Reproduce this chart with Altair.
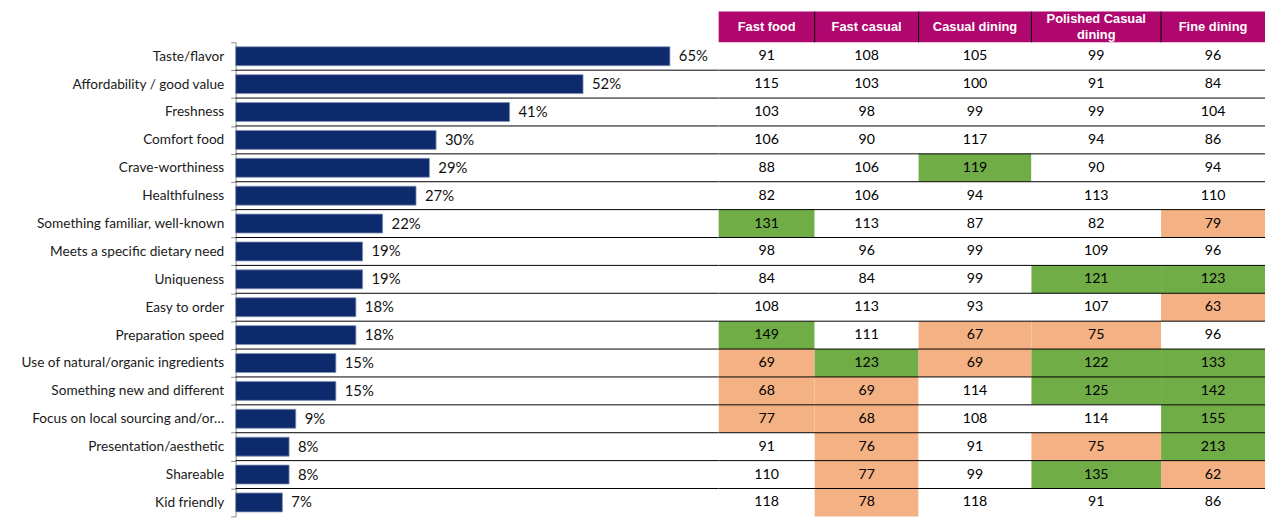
import altair as alt
import pandas as pd

# ---------------- data ----------------
categories = [
    "Taste/flavor",
    "Affordability / good value",
    "Freshness",
    "Comfort food",
    "Crave-worthiness",
    "Healthfulness",
    "Something familiar, well-known",
    "Meets a specific dietary need",
    "Uniqueness",
    "Easy to order",
    "Preparation speed",
    "Use of natural/organic ingredients",
    "Something new and different",
    "Focus on local sourcing and/or…",
    "Presentation/aesthetic",
    "Shareable",
    "Kid friendly",
]
share_pct = [65, 52, 41, 30, 29, 27, 22, 19, 19, 18, 18, 15, 15, 9, 8, 8, 7]

segments = ["Fast food", "Fast casual", "Casual dining", "Polished Casual\ndining", "Fine dining"]
fast_food = [91, 115, 103, 106, 88, 82, 131, 98, 84, 108, 149, 69, 68, 77, 91, 110, 118]
fast_casual = [108, 103, 98, 90, 106, 106, 113, 96, 84, 113, 111, 123, 69, 68, 76, 77, 78]
casual_dining = [105, 100, 99, 117, 119, 94, 87, 99, 99, 93, 67, 69, 114, 108, 91, 99, 118]
polished_casual = [99, 91, 99, 94, 90, 113, 82, 109, 121, 107, 75, 122, 125, 114, 75, 135, 91]
fine_dining = [96, 84, 104, 86, 94, 110, 79, 96, 123, 63, 96, 133, 142, 155, 213, 62, 86]

# ---------------- layout / style ----------------
COL_WIDTHS = [97, 105, 114, 131, 105]
PLOT_H = 479
BAR_W = 488
TAB_W = sum(COL_WIDTHS)
HEAD_H = 31
FONT = "Lato"
HEAD_FONT = "Liberation Sans"

BAR_COLOR = "#0D2A6C"
HEAD_COLOR = "#B0076E"
GREEN = "#70AD47"
SALMON = "#F4B183"

# ---------------- tables ----------------
bars_df = pd.DataFrame({"cat": categories, "pct": share_pct})
bars_df["label"] = bars_df["pct"].astype(str) + "%"
inner_rows = bars_df.iloc[:-1]

edges = [0]
for w in COL_WIDTHS:
    edges.append(edges[-1] + w)
head_df = pd.DataFrame({
    "seg": segments,
    "x0": edges[:-1],
    "x1": edges[1:],
})
head_df["xc"] = (head_df["x0"] + head_df["x1"]) / 2

series = [fast_food, fast_casual, casual_dining, polished_casual, fine_dining]
rows = []
for j, vals in enumerate(series):
    for i, v in enumerate(vals):
        rows.append({"cat": categories[i], "seg": segments[j], "value": v,
                     "x0": edges[j], "x1": edges[j + 1],
                     "xc": (edges[j] + edges[j + 1]) / 2})
cells_df = pd.DataFrame(rows)

# ---------------- bar chart ----------------
y_bar = alt.Scale(domain=categories, paddingInner=0, paddingOuter=0)
x_bar = alt.Scale(domain=[0, BAR_W / 6.75])
y_axis = alt.Axis(
    domainColor="#8c8c8c", tickColor="#8c8c8c", tickSize=5,
    tickBand="extent", grid=False, labelFont=FONT, labelFontSize=13.8,
    labelColor="#1a1a1a", labelPadding=7, labelLimit=260,
    minExtent=224, maxExtent=224,
)

base_bar = alt.Chart(bars_df)

bars = base_bar.mark_bar(
    color=BAR_COLOR, height={"band": 0.68}, stroke="#8593B6", strokeWidth=0.8
).encode(
    x=alt.X("pct:Q", scale=x_bar, axis=None),
    y=alt.Y("cat:N", scale=y_bar, sort=categories, title=None, axis=y_axis),
)

bar_labels = base_bar.mark_text(
    align="left", baseline="middle", dx=9, font=FONT, fontSize=15, color="#111111"
).encode(
    x=alt.X("pct:Q", scale=x_bar, axis=None),
    y=alt.Y("cat:N", scale=y_bar, sort=categories, title=None, axis=y_axis),
    text="label:N",
)

bar_lines = alt.Chart(inner_rows).mark_rule(color="black", strokeWidth=1).encode(
    y=alt.Y("cat:N", scale=y_bar, sort=categories, bandPosition=1, title=None, axis=y_axis),
    x=alt.value(0),
    x2=alt.value(BAR_W),
)

left = alt.layer(bars, bar_lines, bar_labels).properties(width=BAR_W, height=PLOT_H)

# ---------------- table ----------------
y_tab = alt.Scale(domain=categories, paddingInner=0, paddingOuter=0)
x_tab = alt.Scale(domain=[0, TAB_W])

cells = alt.Chart(cells_df).transform_calculate(
    fill="datum.value >= 119 ? '%s' : (datum.value <= 80 ? '%s' : 'white')" % (GREEN, SALMON)
).mark_rect().encode(
    x=alt.X("x0:Q", scale=x_tab, axis=None),
    x2="x1:Q",
    y=alt.Y("cat:N", scale=y_tab, sort=categories, axis=None),
    color=alt.Color("fill:N", scale=None),
)

cell_text = alt.Chart(cells_df).mark_text(
    align="center", baseline="middle", font=FONT, fontSize=14.3, color="#000000"
).encode(
    x=alt.X("xc:Q", scale=x_tab, axis=None),
    y=alt.Y("cat:N", scale=y_tab, sort=categories, axis=None),
    text="value:Q",
)

tab_lines = alt.Chart(inner_rows).mark_rule(color="black", strokeWidth=1).encode(
    y=alt.Y("cat:N", scale=y_tab, sort=categories, bandPosition=1, axis=None),
    x=alt.value(0),
    x2=alt.value(TAB_W),
)

head_rect = alt.Chart(head_df).mark_rect(color=HEAD_COLOR).encode(
    x=alt.X("x0:Q", scale=x_tab, axis=None),
    x2="x1:Q",
    y=alt.value(-HEAD_H),
    y2=alt.value(0),
)

head_sep = alt.Chart(head_df.iloc[:-1]).mark_rule(color="black", strokeWidth=1).encode(
    x=alt.X("x1:Q", scale=x_tab, axis=None),
    y=alt.value(-HEAD_H),
    y2=alt.value(0),
)

head_text_style = dict(
    align="center", baseline="middle", font=HEAD_FONT, fontSize=13,
    fontWeight="bold", color="white", lineBreak="\n", lineHeight=16,
)

head_text_1 = alt.Chart(head_df).transform_filter(
    "indexof(datum.seg, '\\n') < 0"
).mark_text(**head_text_style).encode(
    x=alt.X("xc:Q", scale=x_tab, axis=None),
    y=alt.value(-HEAD_H / 2),
    text="seg:N",
)

head_text_2 = alt.Chart(head_df).transform_filter(
    "indexof(datum.seg, '\\n') >= 0"
).mark_text(**head_text_style).encode(
    x=alt.X("xc:Q", scale=x_tab, axis=None),
    y=alt.value(-HEAD_H / 2 - 8),
    text="seg:N",
)

right = alt.layer(
    cells, tab_lines, cell_text, head_rect, head_sep, head_text_1, head_text_2
).properties(width=TAB_W, height=PLOT_H)

chart = alt.hconcat(left, right, spacing=0, bounds="flush").properties(
    padding={"left": 6, "top": 0, "right": 0, "bottom": 0}
).configure_view(stroke=None)

chart.save("out.html", embed_options={"renderer": "svg", "actions": False})
